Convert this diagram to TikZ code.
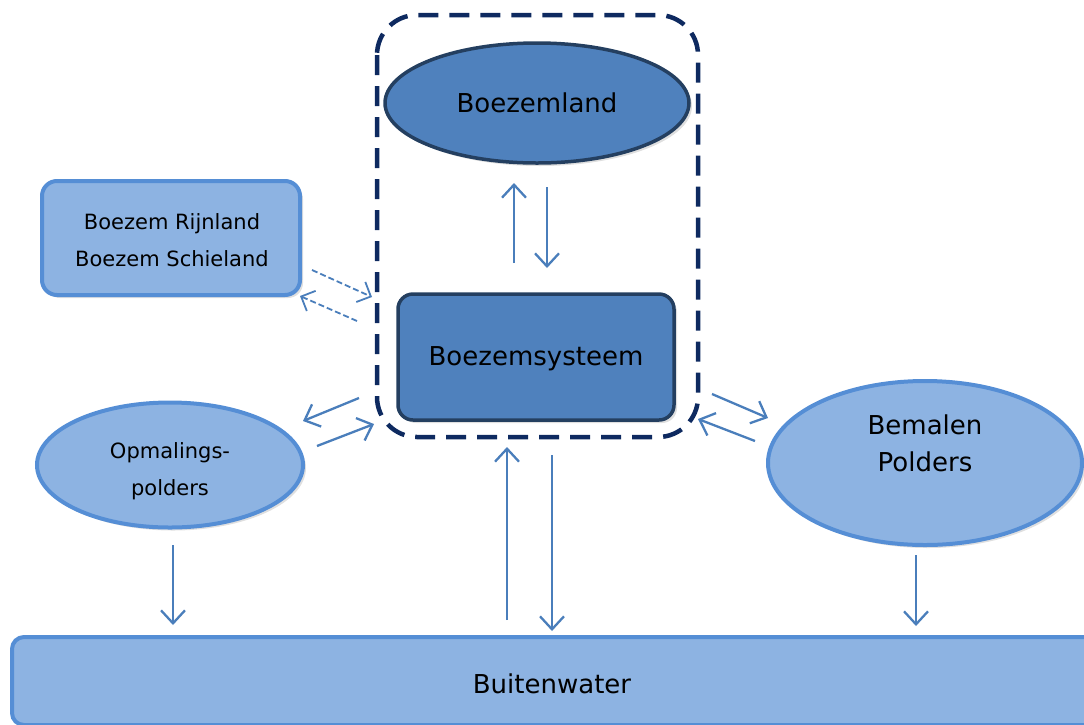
\documentclass[tikz,border=0pt]{standalone}
\usepackage{fontspec}
\setmainfont{DejaVu Sans}
\usetikzlibrary{arrows.meta,shapes.geometric,shadows}
\definecolor{darkfill}{HTML}{4F81BD}
\definecolor{darkline}{HTML}{243F60}
\definecolor{lightfill}{HTML}{8DB3E2}
\definecolor{lightline}{HTML}{558ED5}
\definecolor{navy}{HTML}{0E2A60}
\definecolor{arrowc}{HTML}{4A7EBB}
\tikzset{
  shad/.style={drop shadow={shadow xshift=3pt,shadow yshift=-3pt,opacity=0.25,fill=black!50}},
  darkbox/.style={draw=darkline,fill=darkfill,line width=3.5pt,shad},
  lightbox/.style={draw=lightline,fill=lightfill,line width=4pt,shad},
  flow/.style={draw=arrowc,line width=2.3pt,-{Straight Barb[length=13pt,width=24pt,line width=2.3pt]}},
  dflow/.style={flow,line width=1.8pt,dash pattern=on 6pt off 3pt,-{Straight Barb[length=11pt,width=22pt,line width=1.8pt]}},
  bigtxt/.style={font=\fontsize{26}{37}\selectfont,align=center},
  smalltxt/.style={font=\fontsize{21}{37.5}\selectfont,align=center},
}
\begin{document}
\begin{tikzpicture}[x=1pt,y=-1pt]
\useasboundingbox (0,0) rectangle (1084,724);
% dashed enclosure
\draw[navy,line width=4.5pt,dash pattern=on 20pt off 11pt,rounded corners=40pt] (377,15) rectangle (698,437);
% nodes
\node[darkbox,ellipse,minimum width=304pt,minimum height=120pt] (land) at (537,103) {};
\node[bigtxt] (landt) at (537,103) {Boezemland};
\node[darkbox,rectangle,rounded corners=15pt,minimum width=276pt,minimum height=126pt] (sys) at (536,357) {};
\node[bigtxt] (syst) at (536,359) {Boezemsysteem};
\node[lightbox,rectangle,rounded corners=15pt,minimum width=258pt,minimum height=114pt] (rijn) at (171,238) {};
\node[smalltxt] (rijnt) at (172,240) {Boezem Rijnland\\Boezem Schieland};
\node[lightbox,ellipse,minimum width=266pt,minimum height=125pt] (opm) at (170,465) {};
\node[smalltxt] (opmt) at (170,471) {Opmalings-\\polders};
\node[lightbox,ellipse,minimum width=314pt,minimum height=164pt] (bem) at (925,463) {};
\node[bigtxt] (bemt) at (925,443) {Bemalen\\Polders};
\node[lightbox,rectangle,rounded corners=12pt,minimum width=1100pt,minimum height=88pt,anchor=west] (buit) at (10,681) {};
\node[bigtxt] (buitt) at (552,684) {Buitenwater};
% coordinates for arrow ends
\coordinate (a1s) at (514,263); \coordinate (a1e) at (514,183);
\coordinate (a2s) at (547,187); \coordinate (a2e) at (547,268);
\coordinate (d1s) at (312,270); \coordinate (d1e) at (372,297);
\coordinate (d2s) at (357,321); \coordinate (d2e) at (300,296);
\coordinate (o1s) at (359,398); \coordinate (o1e) at (303,421);
\coordinate (o2s) at (317,446); \coordinate (o2e) at (374,424);
\coordinate (b1s) at (712,394); \coordinate (b1e) at (768,418);
\coordinate (b2s) at (755,441); \coordinate (b2e) at (698,419);
\coordinate (c1s) at (507,620); \coordinate (c1e) at (507,447);
\coordinate (c2s) at (552,455); \coordinate (c2e) at (552,631);
\coordinate (p1s) at (173,545); \coordinate (p1e) at (173,625);
\coordinate (p2s) at (916,555); \coordinate (p2e) at (916,626);
% arrows
\draw[flow] (a1s) -- (a1e);
\draw[flow] (a2s) -- (a2e);
\draw[dflow] (d1s) -- (d1e);
\draw[dflow] (d2s) -- (d2e);
\draw[flow] (o1s) -- (o1e);
\draw[flow] (o2s) -- (o2e);
\draw[flow] (b1s) -- (b1e);
\draw[flow] (b2s) -- (b2e);
\draw[flow] (c1s) -- (c1e);
\draw[flow] (c2s) -- (c2e);
\draw[flow] (p1s) -- (p1e);
\draw[flow] (p2s) -- (p2e);
\end{tikzpicture}
\end{document}
